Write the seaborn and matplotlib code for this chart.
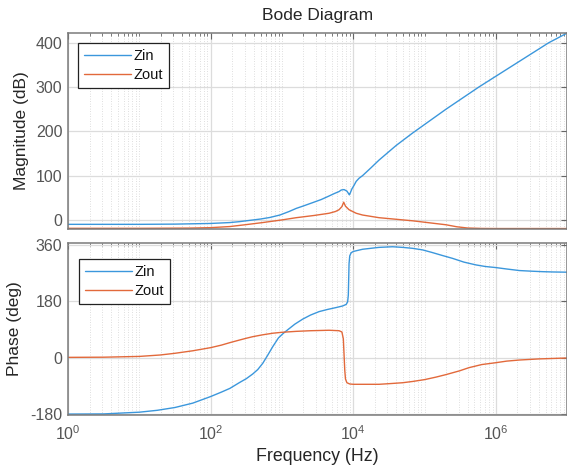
import numpy as np
import pandas as pd
import matplotlib
matplotlib.use("Agg")
import matplotlib.pyplot as plt
import seaborn as sns
from matplotlib.ticker import LogLocator, NullFormatter, FixedLocator

# ---- data (frequency in Hz) ----
# magnitude, dB
mag_zin_f = [1, 10, 32, 100, 186, 251, 355, 501, 676, 933, 1259, 1585, 1995,
             2692, 3548, 4571, 5495, 6310, 6761, 7413, 8128, 8610, 8810, 9016,
             9550, 10233, 10965, 12023, 13490, 17783, 22909, 39811, 67608,
             199526, 575440, 1778279, 5495409, 1e7]
mag_zin_db = [-10, -10, -9.5, -8, -6, -4, -1, 2, 5.5, 11, 19, 26, 31.5,
              39, 46, 54, 60, 64, 67.5, 68.5, 65, 59, 56.5, 60,
              70, 78, 87, 94, 100, 118, 135, 168, 196,
              250, 300, 350, 400, 422]

mag_zout_f = [1, 10, 50, 100, 186, 302, 537, 1000, 1585, 2818, 4571, 5623,
              6310, 6918, 7328, 7762, 8710, 10965, 13490, 22909, 67608, 199526,
              281838, 398107, 630957, 1e6, 1e7]
mag_zout_db = [-19, -19, -18.5, -17.5, -15, -11, -6, 0, 5, 10, 15, 19,
               23, 30, 40, 31, 23, 15, 11, 5, -2, -11,
               -15.5, -18.3, -19.3, -19.5, -19.5]

# phase, deg
ph_zin_f = [1, 3.16, 10, 17.8, 31.6, 56.2, 100, 141, 186, 251, 316, 389, 457,
            537, 631, 741, 891, 1047, 1202, 1514, 1950, 2512, 3311, 4365, 5754, 7079,
            7943, 8318, 8511, 8610, 8710, 8913, 9333, 10000, 13490, 22909,
            35481, 48978, 67608, 93325, 125893, 177828, 245471, 354813, 524807,
            707946, 1e6, 1412538, 2137962, 3162278, 4466836, 6309573, 1e7]
ph_zin_deg = [-180, -179.5, -174, -168, -159, -145, -124, -110, -98, -80, -67, -52, -38,
              -18, 8, 35, 63, 78, 89, 107, 123, 136, 147, 154, 160, 165,
              170, 178, 200, 250, 300, 325, 335, 339, 346, 352,
              354, 352, 349, 344, 336, 326, 317, 305, 296,
              291, 287.5, 283, 278, 276, 274.5, 273.5, 272.8]

ph_zout_f = [1, 3.16, 10, 19.5, 31.6, 56.2, 100, 141, 186, 251, 316, 389, 537,
             741, 1000, 1585, 2512, 4571, 6310, 6918, 7244, 7413, 7586, 7762,
             8128, 8913, 10000, 22909, 31623, 48978, 67608, 1e5, 144544, 199526,
             309030, 416869, 630957, 1e6, 1412538, 2137962, 3981072, 1e7]
ph_zout_deg = [1, 1.5, 4, 8.5, 14, 22, 32, 40, 48, 56, 62, 67, 73,
               78, 81, 84, 86, 87.5, 86, 82, 60, 10, -40, -68,
               -80, -84, -85, -85, -83, -80, -76, -70, -62, -54,
               -42, -32, -22, -16, -11, -7.5, -4, -1]

series = ["Zin", "Zout"]
colors = ["#3b97dc", "#e2693b"]

mag_df = pd.concat([
    pd.DataFrame({"f": mag_zin_f, "val": mag_zin_db, "series": "Zin"}),
    pd.DataFrame({"f": mag_zout_f, "val": mag_zout_db, "series": "Zout"}),
])
ph_df = pd.concat([
    pd.DataFrame({"f": ph_zin_f, "val": ph_zin_deg, "series": "Zin"}),
    pd.DataFrame({"f": ph_zout_f, "val": ph_zout_deg, "series": "Zout"}),
])

sns.set_theme(style="white")
plt.rcParams["font.family"] = ["Liberation Sans", "DejaVu Sans"]
plt.rcParams["mathtext.fontset"] = "custom"
plt.rcParams["mathtext.rm"] = "Liberation Sans"
plt.rcParams["mathtext.it"] = "Liberation Sans:italic"
plt.rcParams["axes.unicode_minus"] = False

fig = plt.figure(figsize=(5.67, 4.70), dpi=100)
ax1 = fig.add_axes([0.12, 0.5128, 0.8805, 0.417])
ax2 = fig.add_axes([0.12, 0.117, 0.8805, 0.366])

# legend anchor (axes fraction) per panel
leg_anchor = {ax1: (0.02, 0.949), ax2: (0.022, 0.907)}

for ax, df in [(ax1, mag_df), (ax2, ph_df)]:
    sns.lineplot(data=df, x="f", y="val", hue="series", hue_order=series,
                 palette=colors, estimator=None, sort=False, linewidth=1.0, ax=ax)
    ax.set_xscale("log")
    ax.set_xlim(1, 1e7)
    ax.xaxis.set_major_locator(FixedLocator([1, 1e2, 1e4, 1e6]))
    ax.xaxis.set_minor_locator(LogLocator(base=10, subs=np.arange(1, 10), numticks=20))
    ax.xaxis.set_minor_formatter(NullFormatter())
    ax.grid(True, which="major", color="#dcdcdc", linewidth=0.9, linestyle="-")
    ax.grid(True, which="minor", axis="x", color="#d4d4d4", linewidth=0.6, linestyle=(0, (1, 2)))
    ax.set_axisbelow(True)
    ax.tick_params(which="both", direction="in", top=True, right=True,
                   colors="#666666", labelcolor="#555555", labelsize=11.5, pad=4)
    ax.tick_params(axis="x", which="major", pad=6.5)
    ax.tick_params(which="major", length=4, width=0.8)
    ax.tick_params(which="minor", length=2.5, width=0.6)
    for s in ax.spines.values():
        s.set_color("#7a7a7a")
        s.set_linewidth(1.1)
    leg = ax.legend(loc="upper left", bbox_to_anchor=leg_anchor[ax], frameon=True,
                    fancybox=False, framealpha=1, edgecolor="#222222", fontsize=10.5,
                    handlelength=3.2, handletextpad=0.2, borderpad=0.4,
                    labelspacing=0.35, borderaxespad=0)
    leg.get_frame().set_linewidth(0.9)
    for t in leg.get_texts():
        t.set_color("#111111")

ax1.set_ylim(-20.5, 422)
ax1.set_yticks([0, 100, 200, 300, 400])
ax1.tick_params(axis="x", labelbottom=False)
ax1.set_xlabel("")
ax1.set_ylabel("Magnitude (dB)", fontsize=12.5, color="#262626", labelpad=5)
ax1.set_title("Bode Diagram", fontsize=12.5, color="#262626", pad=9)

ax2.set_ylim(-183, 366)
ax2.set_yticks([-180, 0, 180, 360])
ax2.set_xlabel("Frequency (Hz)", fontsize=12.8, color="#262626", labelpad=4)
ax2.set_ylabel("Phase (deg)", fontsize=12.5, color="#262626", labelpad=6)

fig.savefig("out.png", dpi=100)
